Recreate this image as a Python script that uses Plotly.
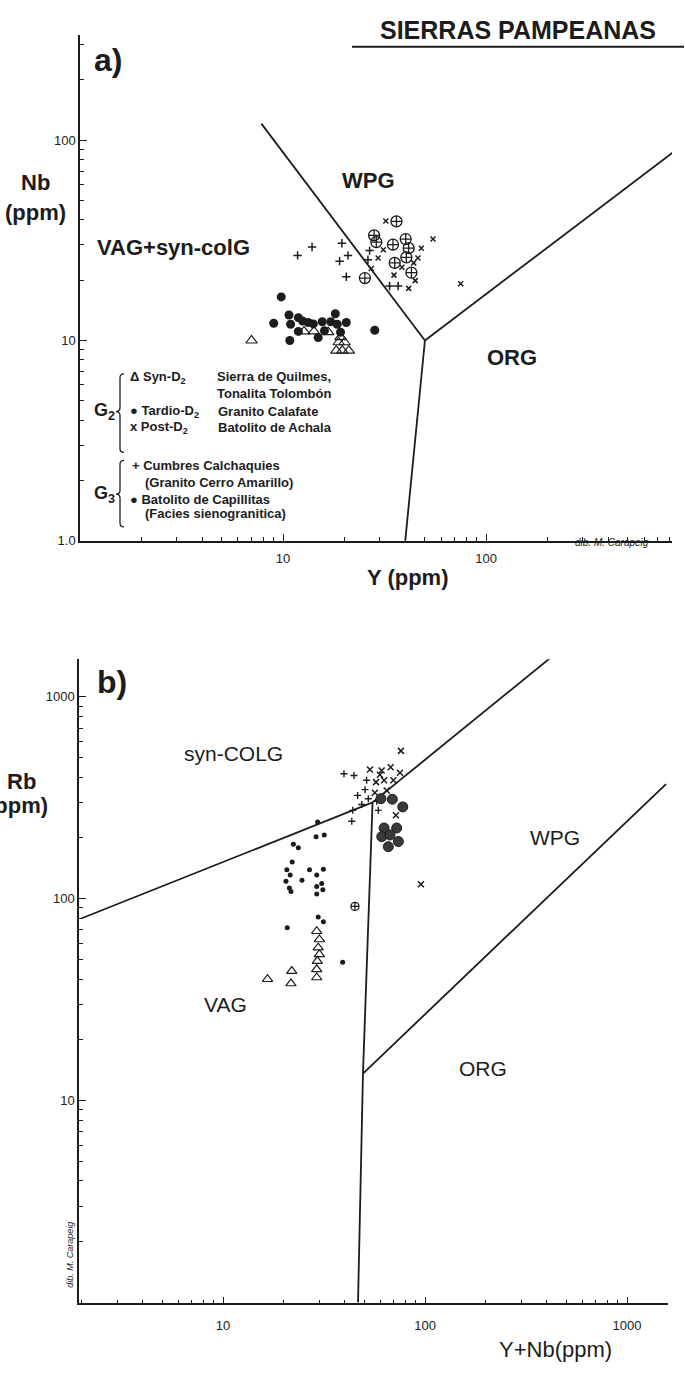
import plotly.graph_objects as go

W, H = 685, 1374

# ---------------- Panel a : Nb vs Y (ppm) ----------------
a_syn_Y = [7.0, 12.7, 14.2, 16.7, 18.8, 20.1, 18.3, 19.6, 21.1, 19.2]
a_syn_Nb = [10.0, 11.1, 11.1, 11.0, 9.8, 9.8, 8.9, 8.9, 8.9, 10.4]
a_tar_Y = [9.8, 9.0, 10.7, 10.9, 11.9, 12.5, 11.9, 10.8, 13.3, 15.6, 14.9, 16.0, 17.2, 18.1, 18.5, 20.5, 28.3, 19.2, 14.1]
a_tar_Nb = [16.5, 12.2, 13.4, 12.05, 13.0, 12.5, 11.1, 10.0, 12.3, 12.4, 10.35, 11.2, 12.4, 13.6, 12.05, 12.3, 11.25, 11.0, 12.1]
a_post_Y = [32.1, 54.8, 48.0, 31.2, 29.4, 27.2, 46.2, 38.5, 35.2, 44.8, 41.6, 75.0, 44.0]
a_post_Nb = [39.5, 32.1, 28.9, 28.4, 25.8, 22.9, 25.8, 23.2, 21.2, 19.9, 18.2, 19.2, 24.4]
a_cum_Y = [13.9, 11.8, 19.5, 20.9, 19.0, 26.2, 20.5, 26.7, 33.5, 36.9]
a_cum_Nb = [29.3, 26.6, 30.6, 26.6, 24.9, 25.3, 20.8, 28.1, 18.7, 18.7]
a_cap_Y = [36.2, 28.1, 28.8, 34.8, 40.2, 41.6, 40.5, 35.5, 42.9, 25.3]
a_cap_Nb = [39.3, 33.5, 31.0, 30.1, 32.1, 28.9, 26.0, 24.4, 21.8, 20.5]

# discrimination boundaries
a_b1_Y, a_b1_Nb = [7.82, 50], [121, 10]
a_b2_Y, a_b2_Nb = [50, 40], [10, 1]
a_b3_Y, a_b3_Nb = [50, 1000], [10, 100]

a_xticks, a_xtext = [10, 100], ["10", "100"]
a_yticks, a_ytext = [1, 10, 100], ["1.0", "10", "100"]

# ---------------- Panel b : Rb vs Y+Nb (ppm) ----------------
b_syn_YNb = [29.1, 30.0, 29.6, 30.0, 29.3, 29.1, 29.1, 21.9, 21.7, 16.6]
b_syn_Rb = [69.0, 62.8, 57.2, 53.0, 49.1, 44.7, 40.7, 43.8, 38.0, 39.9]
b_tar_YNb = [29.4, 28.9, 31.7, 22.3, 23.6, 22.0, 20.7, 21.5, 20.5, 21.3, 21.7, 24.6, 26.8, 29.1, 31.4, 30.8, 29.1, 31.2, 29.1, 29.6, 31.4, 20.8, 39.1]
b_tar_Rb = [240, 203, 207, 186, 179, 152, 139, 131, 122, 113, 108.6, 123.6, 139, 131, 140, 119, 115, 110.7, 105.4, 81.2, 76.8, 71.7, 48.4]
b_post_YNb = [53.4, 61.0, 67.6, 75.2, 57.2, 62.7, 69.7, 56.5, 64.6, 71.8, 95.5, 76.0, 59.8]
b_post_Rb = [437, 432, 448, 421, 378, 386, 386, 335, 344, 259, 118, 540, 411]
b_cum_YNb = [39.7, 44.5, 51.4, 50.5, 46.4, 52.4, 48.6, 43.9, 43.4, 58.7, 57.7]
b_cum_Rb = [416, 408, 386, 347, 325, 313, 293, 274, 242, 274, 304]
b_cap_YNb = [60.5, 68.9, 77.6, 62.7, 72.4, 61.1, 67.1, 73.8, 65.8]
b_cap_Rb = [313, 311, 285, 224, 224, 203, 207, 192, 181]
b_cap2_YNb = [45.0]
b_cap2_Rb = [91.6]

b_b1_x, b_b1_y = [2, 55], [80, 300]
b_b2_x, b_b2_y = [55, 416], [300, 1556]
b_b3_x, b_b3_y = [55, 49.3, 46.6], [300, 13.6, 1]
b_b4_x, b_b4_y = [49.3, 1560], [13.6, 370]

b_xticks, b_xtext = [10, 100, 1000], ["10", "100", "1000"]
b_yticks, b_ytext = [10, 100, 1000], ["10", "100", "1000"]

INK = "#1c1c1c"
FONT = "Liberation Sans, Arial, sans-serif"


def minor_vals(lo, hi):
    vals = []
    d = lo
    while d < hi:
        for k in range(2, 10):
            vals.append(k * d)
        d *= 10
    return vals


fig = go.Figure()


def pts(x, y, sym, size, xa, ya, lw=1.2, color=INK, fill=None):
    fig.add_trace(go.Scatter(
        x=x, y=y, mode="markers", xaxis=xa, yaxis=ya, showlegend=False,
        marker=dict(symbol=sym, size=size, color=fill or color,
                    line=dict(color=color, width=lw))))


def line(x, y, xa, ya, w=1.8):
    fig.add_trace(go.Scatter(x=x, y=y, mode="lines", xaxis=xa, yaxis=ya,
                             showlegend=False, line=dict(color=INK, width=w)))


# panel a
for bx, by in [(a_b1_Y, a_b1_Nb), (a_b2_Y, a_b2_Nb), (a_b3_Y, a_b3_Nb)]:
    line(bx, by, "x", "y")
pts(a_syn_Y, a_syn_Nb, "triangle-up-open", 10, "x", "y")
pts(a_tar_Y, a_tar_Nb, "circle", 9, "x", "y", lw=0)
pts(a_post_Y, a_post_Nb, "x-thin", 5, "x", "y", lw=1.5)
pts(a_cum_Y, a_cum_Nb, "cross-thin", 6, "x", "y", lw=1.5)
pts(a_cap_Y, a_cap_Nb, "circle-cross-open", 11, "x", "y", lw=1.3)

# panel b
for bx, by in [(b_b1_x, b_b1_y), (b_b2_x, b_b2_y), (b_b3_x, b_b3_y), (b_b4_x, b_b4_y)]:
    line(bx, by, "x2", "y2")
pts(b_syn_YNb, b_syn_Rb, "triangle-up-open", 9, "x2", "y2")
pts(b_tar_YNb, b_tar_Rb, "circle", 5, "x2", "y2", lw=0)
pts(b_post_YNb, b_post_Rb, "x-thin", 6, "x2", "y2", lw=1.5)
pts(b_cum_YNb, b_cum_Rb, "cross-thin", 5, "x2", "y2", lw=1.4)
pts(b_cap_YNb, b_cap_Rb, "circle", 10, "x2", "y2", lw=1, fill="#3a3a3a")
pts(b_cap2_YNb, b_cap2_Rb, "circle-cross-open", 8, "x2", "y2", lw=1.3)


def dom_x(p0, p1):
    return [p0 / W, p1 / W]


def dom_y(top, bottom):
    return [1 - bottom / H, 1 - top / H]


axis_common = dict(
    type="log", showgrid=False, zeroline=False, showline=True,
    linecolor=INK, linewidth=1.5, ticks="inside", ticklen=7, tickwidth=1.2,
    tickcolor=INK, tickfont=dict(family=FONT, size=13, color="#222"),
    tickmode="array",
)

fig.update_layout(
    width=W, height=H, margin=dict(l=0, r=0, t=0, b=0),
    paper_bgcolor="white", plot_bgcolor="white",
    xaxis=dict(**axis_common, domain=dom_x(80, 672), range=[0, 2.916],
               anchor="y", tickvals=a_xticks, ticktext=a_xtext,
               ticklabelstandoff=5,
               minor=dict(ticks="inside", ticklen=4, tickcolor=INK,
                          tickvals=minor_vals(1, 1000))),
    yaxis=dict(**axis_common, domain=dom_y(35, 544), range=[0, 2.526],
               anchor="x", tickvals=a_yticks, ticktext=a_ytext,
               minor=dict(ticks="inside", ticklen=4, tickcolor=INK,
                          tickvals=minor_vals(1, 1000))),
    xaxis2=dict(**axis_common, domain=dom_x(79, 668), range=[0.287, 3.203],
                anchor="y2", tickvals=b_xticks, ticktext=b_xtext,
                ticklabelstandoff=9,
                minor=dict(ticks="inside", ticklen=4, tickcolor=INK,
                           tickvals=minor_vals(1, 10000))),
    yaxis2=dict(**axis_common, domain=dom_y(663, 1311), range=[-0.005, 3.187],
                anchor="x2", tickvals=b_yticks, ticktext=b_ytext,
                minor=dict(ticks="inside", ticklen=4, tickcolor=INK,
                           tickvals=minor_vals(1, 10000))),
)


def txt(s, xp, yp, size, bold=False, anchor="center", angle=0, italic=False, color=INK):
    fig.add_annotation(
        text=s, x=xp / W, y=1 - yp / H, xref="paper", yref="paper",
        xanchor=anchor, yanchor="middle", showarrow=False, textangle=angle,
        font=dict(family=FONT, size=size, color=color,
                  weight="bold" if bold else "normal",
                  style="italic" if italic else "normal"))


# title
txt("SIERRAS PAMPEANAS", 518, 30, 25, bold=True)
fig.add_shape(type="line", xref="paper", yref="paper",
              x0=352 / W, x1=684 / W, y0=1 - 47 / H, y1=1 - 47 / H,
              line=dict(color=INK, width=2))

# panel a labels
txt("a)", 108, 60, 32, bold=True)
txt("Nb", 52, 184, 22, bold=True, anchor="right")
txt("(ppm)", 68, 214, 22, bold=True, anchor="right")
txt("WPG", 368, 182, 22, bold=True)
txt("VAG+syn-colG", 174, 249, 22, bold=True)
txt("ORG", 512, 360, 22, bold=True)
txt("Y (ppm)", 407, 581, 22, bold=True)
txt("dib. M. Carapeig", 612, 546, 10, italic=True)

# legend text (panel a)
LF = 13
txt("Δ Syn-D<sub>2</sub>", 128, 380, LF, bold=True, anchor="left")
txt("Sierra de Quilmes,", 215, 379, LF, bold=True, anchor="left")
txt("Tonalita Tolombón", 215, 396, LF, bold=True, anchor="left")
txt("● Tardio-D<sub>2</sub>", 128, 414, LF, bold=True, anchor="left")
txt("Granito Calafate", 216, 414, LF, bold=True, anchor="left")
txt("x Post-D<sub>2</sub>", 128, 430, LF, bold=True, anchor="left")
txt("Batolito de Achala", 216, 430, LF, bold=True, anchor="left")
txt("G<sub>2</sub>", 92, 414, 18, bold=True, anchor="left")
txt("+ Cumbres Calchaquies", 130, 468, LF, bold=True, anchor="left")
txt("(Granito Cerro Amarillo)", 143, 485, LF, bold=True, anchor="left")
txt("● Batolito de Capillitas", 128, 502, LF, bold=True, anchor="left")
txt("(Facies sienogranitica)", 143, 517, LF, bold=True, anchor="left")
txt("G<sub>3</sub>", 92, 497, 18, bold=True, anchor="left")


def brace(x, y0, y1, ym, w=4):
    P = lambda px, py: f"{px / W:.5f},{1 - py / H:.5f}"
    path = (f"M {P(x + w, y0)} Q {P(x, y0)} {P(x, y0 + w)} L {P(x, ym - w)} "
            f"Q {P(x, ym)} {P(x - w, ym)} Q {P(x, ym)} {P(x, ym + w)} "
            f"L {P(x, y1 - w)} Q {P(x, y1)} {P(x + w, y1)}")
    fig.add_shape(type="path", path=path, xref="paper", yref="paper",
                  line=dict(color=INK, width=1.3))


brace(120, 376, 455, 414)
brace(120, 463, 530, 497)

# panel b labels
txt("b)", 112, 686, 32, bold=True)
txt("Rb", 38, 786, 22, bold=True, anchor="right")
txt("(ppm)", 50, 810, 22, bold=True, anchor="right")
txt("syn-COLG", 233, 758, 21)
txt("WPG", 555, 842, 21)
txt("VAG", 226, 1010, 21)
txt("ORG", 483, 1075, 21)
txt("Y+Nb(ppm)", 555, 1357, 22)
txt("dib. M. Carapeig", 70, 1262, 9, italic=True, angle=-90)

fig.write_html("out.html")
